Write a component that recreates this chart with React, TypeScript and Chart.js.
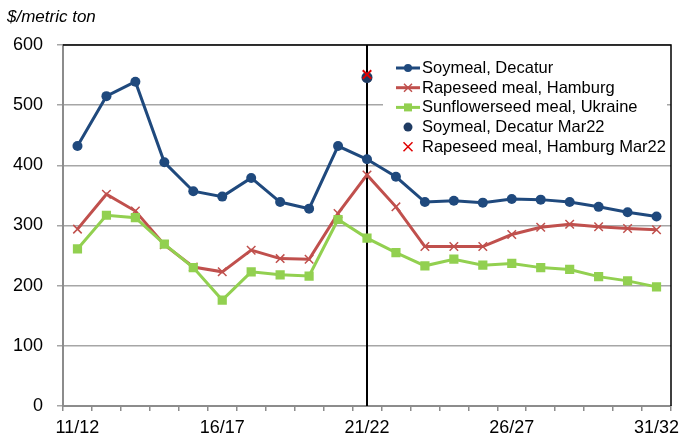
import React, { useEffect, useRef } from "react";
import { Chart, registerables } from "chart.js";

Chart.register(...registerables);

const categories = [
  "11/12", "12/13", "13/14", "14/15", "15/16", "16/17", "17/18", "18/19", "19/20", "20/21",
  "21/22", "22/23", "23/24", "24/25", "25/26", "26/27", "27/28", "28/29", "29/30", "30/31", "31/32",
];
const xTickLabels = ["11/12", "16/17", "21/22", "26/27", "31/32"];
const soymeal = [432, 515, 539, 405, 357, 348, 379, 339, 328, 432, 410, 381, 339, 341, 338, 344, 343, 339, 331, 322, 315];
const rapeseed = [294, 352, 324, 268, 231, 223, 259, 245, 244, 320, 384, 331, 265, 265, 265, 285, 297, 302, 298, 295, 293];
const sunflower = [261, 317, 313, 269, 230, 176, 223, 218, 216, 310, 279, 255, 233, 244, 234, 237, 230, 227, 215, 208, 198];
const mar22Category = "21/22";
const soymealMar22 = 546;
const rapeseedMar22 = 551;
const yTicks = [0, 100, 200, 300, 400, 500, 600];

const FONT = "'Liberation Sans', Arial, sans-serif";
const BLUE = "#1F497D";
const RED = "#C0504D";
const GREEN = "#92D050";
const NAVY = "#1F3B63";
const BRIGHT_RED = "#E00000";

const legendItems = [
  { label: "Soymeal, Decatur", color: BLUE, marker: "circle", line: true },
  { label: "Rapeseed meal, Hamburg", color: RED, marker: "cross", line: true },
  { label: "Sunflowerseed meal, Ukraine", color: GREEN, marker: "rect", line: true },
  { label: "Soymeal, Decatur Mar22", color: NAVY, marker: "circle", line: false },
  { label: "Rapeseed meal, Hamburg Mar22", color: BRIGHT_RED, marker: "cross", line: false },
];

function drawMarker(ctx: CanvasRenderingContext2D, kind: string, x: number, y: number, r: number, color: string) {
  ctx.save();
  ctx.fillStyle = color;
  ctx.strokeStyle = color;
  if (kind === "circle") {
    ctx.beginPath();
    ctx.arc(x, y, r, 0, Math.PI * 2);
    ctx.fill();
  } else if (kind === "rect") {
    ctx.fillRect(x - r, y - r, r * 2, r * 2);
  } else {
    ctx.lineWidth = 1.5;
    ctx.beginPath();
    ctx.moveTo(x - r, y - r);
    ctx.lineTo(x + r, y + r);
    ctx.moveTo(x + r, y - r);
    ctx.lineTo(x - r, y + r);
    ctx.stroke();
  }
  ctx.restore();
}

const decorPlugin = {
  id: "decor",
  beforeDatasetsDraw(chart: any) {
    const { ctx, chartArea, scales } = chart;
    const x = scales.x.getPixelForValue(categories.indexOf(mar22Category));
    ctx.save();
    ctx.strokeStyle = "#000";
    ctx.lineWidth = 2;
    ctx.beginPath();
    ctx.moveTo(x, chartArea.top);
    ctx.lineTo(x, chartArea.bottom);
    ctx.stroke();
    ctx.restore();
  },
  afterDraw(chart: any) {
    const { ctx, chartArea } = chart;
    ctx.save();

    // axis title
    ctx.fillStyle = "#000";
    ctx.font = `italic 17px ${FONT}`;
    ctx.textBaseline = "middle";
    ctx.textAlign = "left";
    ctx.fillText("$/metric ton", 7, 17);

    // legend
    const lx = chartArea.left + 320;
    const ly = chartArea.top + 10;
    ctx.fillStyle = "#fff";
    ctx.fillRect(lx, ly, chartArea.right - 4 - lx, 102);
    ctx.font = `16.5px ${FONT}`;
    legendItems.forEach((it, i) => {
      const cy = chartArea.top + 23 + i * 19.7;
      const x0 = chartArea.left + 333;
      const x1 = chartArea.left + 357;
      const mx = (x0 + x1) / 2;
      if (it.line) {
        ctx.strokeStyle = it.color;
        ctx.lineWidth = 3;
        ctx.beginPath();
        ctx.moveTo(x0, cy);
        ctx.lineTo(x1, cy);
        ctx.stroke();
        drawMarker(ctx, it.marker, mx, cy, 4, it.color);
      } else {
        drawMarker(ctx, it.marker, mx, cy, 4.5, it.color);
      }
      ctx.fillStyle = "#000";
      ctx.fillText(it.label, x1 + 2, cy + 0.5);
    });

    // frame top & right
    ctx.strokeStyle = "#000";
    ctx.lineWidth = 1.5;
    ctx.beginPath();
    ctx.moveTo(chartArea.left, chartArea.top);
    ctx.lineTo(chartArea.right, chartArea.top);
    ctx.lineTo(chartArea.right, chartArea.bottom);
    ctx.stroke();
    ctx.restore();
  },
};

export default function App() {
  const ref = useRef<HTMLCanvasElement>(null);
  useEffect(() => {
    if (!ref.current) return;
    const chart = new Chart(ref.current, {
      type: "line",
      data: {
        labels: categories,
        datasets: [
          {
            label: "Soymeal, Decatur",
            data: soymeal,
            borderColor: BLUE,
            backgroundColor: BLUE,
            borderWidth: 3,
            pointStyle: "circle",
            pointRadius: 5,
            pointBorderWidth: 0,
            order: 5,
          },
          {
            label: "Rapeseed meal, Hamburg",
            data: rapeseed,
            borderColor: RED,
            backgroundColor: RED,
            borderWidth: 3,
            pointStyle: "crossRot",
            pointRadius: 6,
            pointBorderWidth: 1.5,
            order: 4,
          },
          {
            label: "Sunflowerseed meal, Ukraine",
            data: sunflower,
            borderColor: GREEN,
            backgroundColor: GREEN,
            borderWidth: 3,
            pointStyle: "rect",
            pointRadius: 6.5,
            pointBorderWidth: 0,
            order: 3,
          },
          {
            label: "Soymeal, Decatur Mar22",
            data: categories.map((c) => (c === mar22Category ? soymealMar22 : null)),
            borderColor: NAVY,
            backgroundColor: NAVY,
            showLine: false,
            pointStyle: "circle",
            pointRadius: 5.5,
            pointBorderWidth: 0,
            order: 2,
          },
          {
            label: "Rapeseed meal, Hamburg Mar22",
            data: categories.map((c) => (c === mar22Category ? rapeseedMar22 : null)),
            borderColor: BRIGHT_RED,
            backgroundColor: BRIGHT_RED,
            showLine: false,
            pointStyle: "crossRot",
            pointRadius: 6,
            pointBorderWidth: 2,
            order: 1,
          },
        ],
      },
      options: {
        responsive: false,
        animation: false,
        layout: { padding: { left: 0, right: 10, top: 45, bottom: 0 } },
        plugins: {
          legend: { display: false },
          tooltip: { enabled: false },
          title: { display: false },
        },
        scales: {
          x: {
            type: "category",
            offset: true,
            afterFit: (s: any) => {
              s.height = 36;
              s.paddingLeft = 0;
              s.paddingRight = 0;
            },
            grid: {
              offset: true,
              drawOnChartArea: false,
              drawTicks: true,
              tickLength: 5,
              color: "#8c8c8c",
              lineWidth: 1.5,
            },
            border: { display: true, color: "#8c8c8c", width: 2 },
            ticks: {
              autoSkip: false,
              maxRotation: 0,
              minRotation: 0,
              padding: 6,
              color: "#000",
              font: { family: FONT, size: 18 },
              callback: function (this: any, _v: any, i: number) {
                const l = categories[i];
                return xTickLabels.includes(l) ? l : "";
              },
            },
          },
          y: {
            min: yTicks[0],
            max: yTicks[yTicks.length - 1],
            afterFit: (s: any) => {
              s.width = 63;
              s.paddingTop = 0;
              s.paddingBottom = 0;
            },
            afterBuildTicks: (s: any) => {
              s.ticks = yTicks.map((v) => ({ value: v }));
            },
            grid: {
              color: "#a6a6a6",
              lineWidth: 1.5,
              drawTicks: true,
              tickLength: 6,
            },
            border: { display: true, color: "#8c8c8c", width: 2 },
            ticks: {
              padding: 14,
              color: "#000",
              font: { family: FONT, size: 18 },
            },
          },
        },
      },
      plugins: [decorPlugin],
    });
    return () => chart.destroy();
  }, []);
  return (
    <div style={{ position: "absolute", left: 0, top: 0, width: 681, height: 442, background: "#fff" }}>
      <canvas ref={ref} width={681} height={442} />
    </div>
  );
}
